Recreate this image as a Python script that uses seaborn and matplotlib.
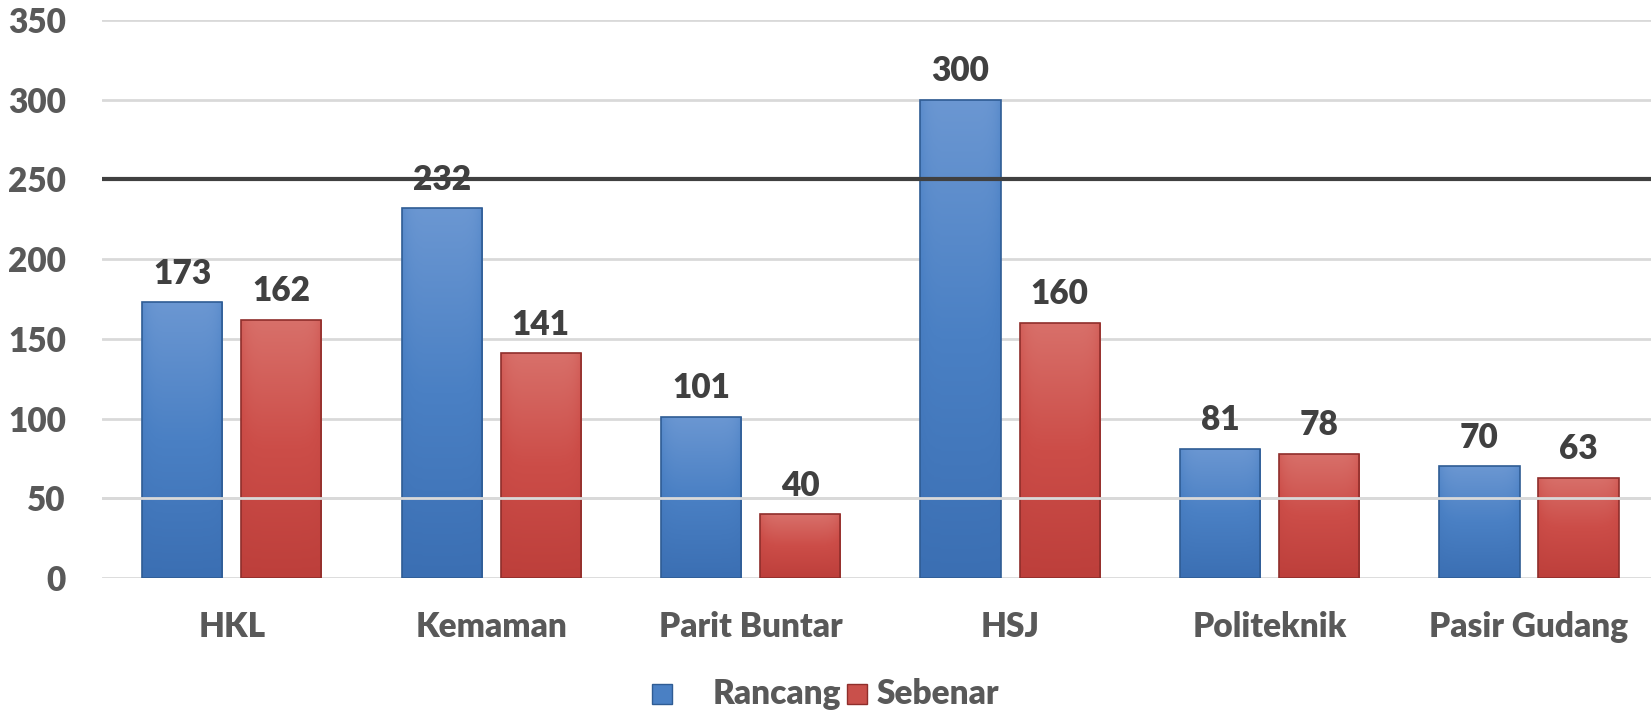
import numpy as np
import pandas as pd
import matplotlib
matplotlib.use("Agg")
import matplotlib.pyplot as plt
import seaborn as sns
from matplotlib.lines import Line2D
from matplotlib.colors import LinearSegmentedColormap

categories = ["HKL", "Kemaman", "Parit Buntar", "HSJ", "Politeknik", "Pasir Gudang"]
rancang = [173, 232, 101, 300, 81, 70]
sebenar = [162, 141, 40, 160, 78, 63]
series = ["Rancang", "Sebenar"]
y_ticks = [0, 50, 100, 150, 200, 250, 300, 350]

df = pd.DataFrame({
    "Lokasi": categories * 2,
    "Nilai": rancang + sebenar,
    "Siri": [series[0]] * len(categories) + [series[1]] * len(categories),
})

sns.set_theme(style="white")
plt.rcParams["font.family"] = ["Lato", "DejaVu Sans"]
WEIGHT = "heavy"
FS = 24

fig = plt.figure(figsize=(16.51, 7.13), dpi=100)
ax = fig.add_axes([0.0618, 0.1893, 0.9382, 0.7827])

palette = {"Rancang": "#4a80c4", "Sebenar": "#c9504b"}
sns.barplot(data=df, x="Lokasi", y="Nilai", hue="Siri", palette=palette,
            width=0.764, gap=0.19, ax=ax, legend=False, zorder=3,
            edgecolor="none", linewidth=0, saturation=1)

grad_colors = {
    "Rancang": ("#6b97d2", "#4a80c4", "#3b6fb3"),
    "Sebenar": ("#d8706a", "#cc4d48", "#bd3f3b"),
}
edge_colors = {"Rancang": "#2f5c94", "Sebenar": "#8f2e2b"}

for cont, name in zip(ax.containers, series):
    top, mid, bot = grad_colors[name]
    cmap = LinearSegmentedColormap.from_list(name, [bot, mid, top])
    for p in cont.patches:
        x0, y0 = p.get_x(), p.get_y()
        w, h = p.get_width(), p.get_height()
        grad = np.linspace(0, 1, 256).reshape(-1, 1)
        horiz = 1 - 0.25 * (np.abs(np.linspace(-1, 1, 64)) ** 6)
        img = grad * horiz.reshape(1, -1)
        im = ax.imshow(img, extent=(x0, x0 + w, y0, y0 + h), origin="lower",
                       cmap=cmap, vmin=0, vmax=1, aspect="auto", zorder=3.5,
                       interpolation="bilinear")
        im.set_clip_path(p)
        p.set_edgecolor(edge_colors[name])
        p.set_linewidth(1.2)
        p.set_zorder(4)
        p.set_facecolor("none")
    ax.bar_label(cont, labels=[str(int(v)) for v in cont.datavalues],
                 padding=9, fontsize=FS, fontweight=WEIGHT, color="#404040",
                 zorder=6)

ax.set_xlim(-0.5, 5.47)
ax.set_ylim(0, 350)
ax.set_yticks(y_ticks)
ax.set_yticklabels([str(t) for t in y_ticks])
ax.grid(axis="y", color="#d9d9d9", linewidth=2, zorder=0)
ax.set_axisbelow(True)
ax.axhline(50, color="#d9d9d9", linewidth=2, zorder=5)
ax.axhline(250, color="#404040", linewidth=3, zorder=5)
for s in ax.spines.values():
    s.set_visible(False)
ax.tick_params(axis="y", length=0, pad=26, labelsize=FS, labelcolor="#595959")
ax.tick_params(axis="x", length=0, pad=24, labelsize=FS, labelcolor="#595959")
for lab in ax.get_xticklabels() + ax.get_yticklabels():
    lab.set_fontweight(WEIGHT)
ax.set_xlabel("")
ax.set_ylabel("")

# legend drawn manually to mimic the reference's uneven spacing
legend_y = 0.026
marker_x = [0.401, 0.519]
text_x = [0.4319, 0.531]
for s, mx, tx in zip(series, marker_x, text_x):
    fig.add_artist(Line2D([mx], [legend_y], transform=fig.transFigure,
                          marker="s", linestyle="none", markersize=15,
                          markerfacecolor=palette[s],
                          markeredgecolor=edge_colors[s]))
    fig.text(tx, legend_y, s, ha="left", va="center", fontsize=FS,
             fontweight=WEIGHT, color="#595959")

fig.savefig("out.png", dpi=100)
